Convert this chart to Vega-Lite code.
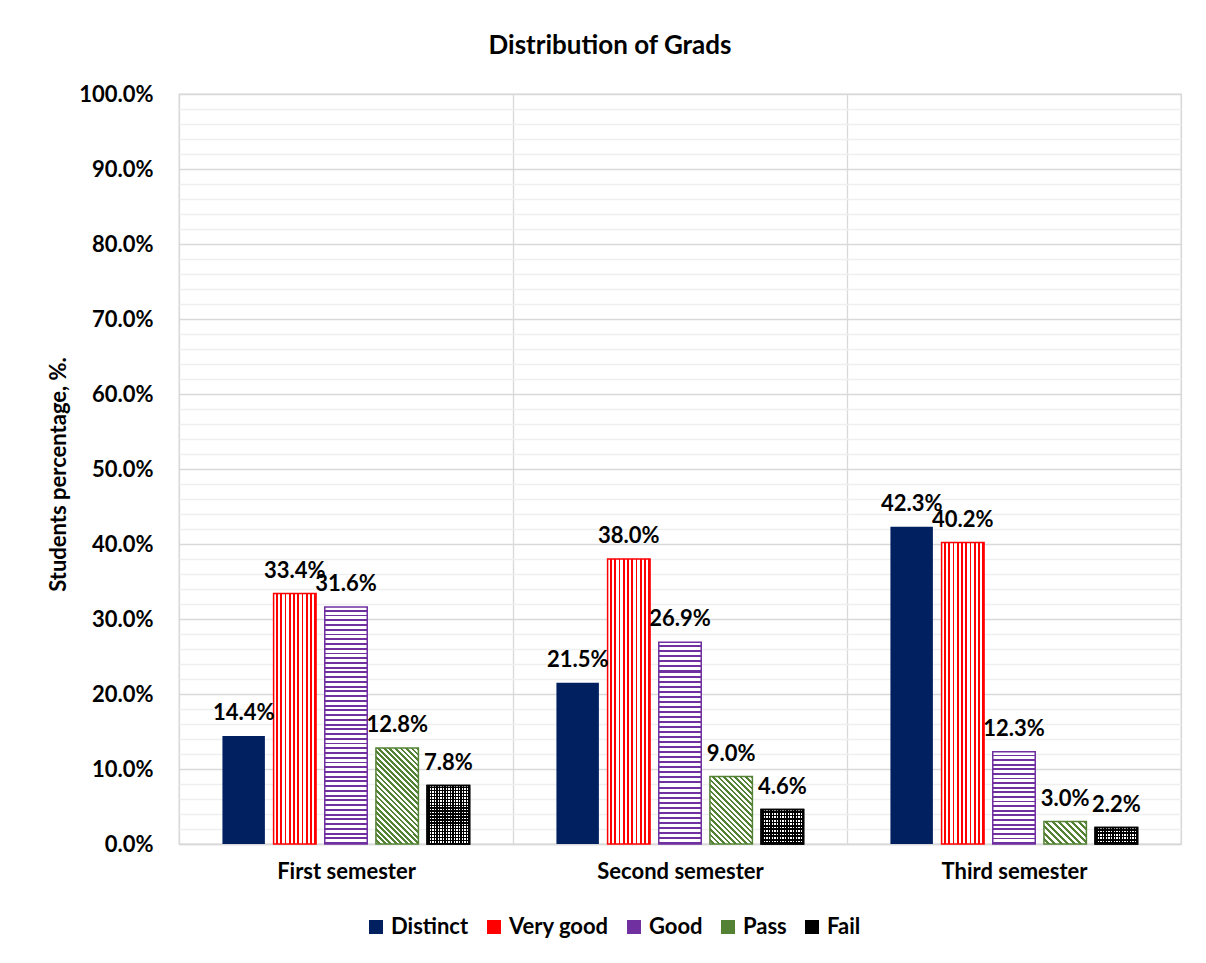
{
"$schema":"https://vega.github.io/schema/vega-lite/v6.json",
"width":1002,"height":750,
"autosize":{"type":"none"},
"padding":{"left":179,"top":94,"right":25,"bottom":119},
"background":"white",
"config":{"font":"Lato","view":{"stroke":"#d9d9d9","strokeWidth":1.3}},
"title":{"text":"Distribution of Grads","fontSize":26,"fontWeight":"bold","color":"#000","anchor":"middle","dx":-70,"offset":24},
"data":{"values":[
{"semester":"First semester","grade":"Distinct","value":0.144},
{"semester":"First semester","grade":"Very good","value":0.334},
{"semester":"First semester","grade":"Good","value":0.316},
{"semester":"First semester","grade":"Pass","value":0.128},
{"semester":"First semester","grade":"Fail","value":0.078},
{"semester":"Second semester","grade":"Distinct","value":0.215},
{"semester":"Second semester","grade":"Very good","value":0.380},
{"semester":"Second semester","grade":"Good","value":0.269},
{"semester":"Second semester","grade":"Pass","value":0.090},
{"semester":"Second semester","grade":"Fail","value":0.046},
{"semester":"Third semester","grade":"Distinct","value":0.423},
{"semester":"Third semester","grade":"Very good","value":0.402},
{"semester":"Third semester","grade":"Good","value":0.123},
{"semester":"Third semester","grade":"Pass","value":0.030},
{"semester":"Third semester","grade":"Fail","value":0.022}
]},
"encoding":{
"x":{"field":"semester","type":"nominal","scale":{"domain":["First semester","Second semester","Third semester"],"paddingInner":0,"paddingOuter":0},
 "axis":{"title":null,"labelAngle":0,"labelFontWeight":"bold","labelFontSize":22,"labelColor":"#000","labelPadding":17,"ticks":false,"tickSize":0,"tickBand":"extent","domainColor":"#d9d9d9","domainWidth":1.3,"grid":true,"gridColor":"#d9d9d9","gridWidth":1.3}},
"xOffset":{"field":"grade","type":"nominal","scale":{"domain":["Distinct","Very good","Good","Pass","Fail"],"paddingInner":0.17,"paddingOuter":0.8487}},
"y":{"field":"value","type":"quantitative","stack":null,"scale":{"domain":[0,1]},
 "axis":{"title":"Students percentage, %.","titleFontSize":22,"titleFontWeight":"bold","titleColor":"#000","titleX":-121,"titleY":380,"titleAlign":"center","titleBaseline":"middle","titleAngle":-90,
 "values":[0,0.02,0.04,0.06,0.08,0.1,0.12,0.14,0.16,0.18,0.2,0.22,0.24,0.26,0.28,0.3,0.32,0.34,0.36,0.38,0.4,0.42,0.44,0.46,0.48,0.5,0.52,0.54,0.56,0.58,0.6,0.62,0.64,0.66,0.68,0.7,0.72,0.74,0.76,0.78,0.8,0.82,0.84,0.86,0.88,0.9,0.92,0.94,0.96,0.98,1],
 "format":".1%","labelExpr":"round(datum.value*50) % 5 == 0 ? datum.label : ''","labelOverlap":false,"labelFontWeight":"bold","labelFontSize":22,"labelColor":"#000","labelPadding":26,"ticks":false,"tickSize":0,"domain":false,
 "gridColor":{"condition":{"test":"round(datum.value*50) % 5 == 0","value":"#d9d9d9"},"value":"#efefef"},"gridWidth":1.3}}
},
"layer":[
{"mark":{"type":"bar"},
 "encoding":{"color":{"field":"grade","type":"nominal","scale":{"domain":["Distinct","Very good","Good","Pass","Fail"],"range":["#002060","#ff0000","#7030a0","#548235","#000000"]},
 "legend":{"title":null,"orient":"none","legendX":186,"legendY":822,"direction":"horizontal","symbolType":"square","symbolSize":196,"symbolStrokeWidth":0,"symbolOpacity":1,"labelFontWeight":"bold","labelFontSize":22,"labelColor":"#000","labelOffset":4,"columnPadding":14}}}},
{"transform":[{"filter":"datum.grade == 'Very good'"}],
 "mark":{"type":"bar","stroke":"#ff0000","strokeWidth":1.5,"fill":{"gradient":"linear","x1":0,"y1":0,"x2":1,"y2":0,"stops":[
{"offset":0,"color":"#fff"},{"offset":0.06,"color":"#fff"},{"offset":0.06,"color":"#f00"},{"offset":0.1,"color":"#f00"},
{"offset":0.1,"color":"#fff"},{"offset":0.16,"color":"#fff"},{"offset":0.16,"color":"#f00"},{"offset":0.2,"color":"#f00"},
{"offset":0.2,"color":"#fff"},{"offset":0.26,"color":"#fff"},{"offset":0.26,"color":"#f00"},{"offset":0.3,"color":"#f00"},
{"offset":0.3,"color":"#fff"},{"offset":0.36,"color":"#fff"},{"offset":0.36,"color":"#f00"},{"offset":0.4,"color":"#f00"},
{"offset":0.4,"color":"#fff"},{"offset":0.46,"color":"#fff"},{"offset":0.46,"color":"#f00"},{"offset":0.5,"color":"#f00"},
{"offset":0.5,"color":"#fff"},{"offset":0.56,"color":"#fff"},{"offset":0.56,"color":"#f00"},{"offset":0.6,"color":"#f00"},
{"offset":0.6,"color":"#fff"},{"offset":0.66,"color":"#fff"},{"offset":0.66,"color":"#f00"},{"offset":0.7,"color":"#f00"},
{"offset":0.7,"color":"#fff"},{"offset":0.76,"color":"#fff"},{"offset":0.76,"color":"#f00"},{"offset":0.8,"color":"#f00"},
{"offset":0.8,"color":"#fff"},{"offset":0.86,"color":"#fff"},{"offset":0.86,"color":"#f00"},{"offset":0.9,"color":"#f00"},
{"offset":0.9,"color":"#fff"},{"offset":0.96,"color":"#fff"},{"offset":0.96,"color":"#f00"},{"offset":1,"color":"#f00"}]}}},
{"transform":[{"filter":"datum.grade == 'Good' && datum.semester == 'First semester'"}],
 "mark":{"type":"bar","stroke":"#7030a0","strokeWidth":1.5,"fill":{"gradient":"linear","x1":0,"y1":0,"x2":0,"y2":1,"stops":[
{"offset":0,"color":"#fff"},{"offset":0.012,"color":"#fff"},{"offset":0.012,"color":"#7030a0"},{"offset":0.02,"color":"#7030a0"},
{"offset":0.02,"color":"#fff"},{"offset":0.032,"color":"#fff"},{"offset":0.032,"color":"#7030a0"},{"offset":0.04,"color":"#7030a0"},
{"offset":0.04,"color":"#fff"},{"offset":0.052,"color":"#fff"},{"offset":0.052,"color":"#7030a0"},{"offset":0.06,"color":"#7030a0"},
{"offset":0.06,"color":"#fff"},{"offset":0.072,"color":"#fff"},{"offset":0.072,"color":"#7030a0"},{"offset":0.08,"color":"#7030a0"},
{"offset":0.08,"color":"#fff"},{"offset":0.092,"color":"#fff"},{"offset":0.092,"color":"#7030a0"},{"offset":0.1,"color":"#7030a0"},
{"offset":0.1,"color":"#fff"},{"offset":0.112,"color":"#fff"},{"offset":0.112,"color":"#7030a0"},{"offset":0.12,"color":"#7030a0"},
{"offset":0.12,"color":"#fff"},{"offset":0.132,"color":"#fff"},{"offset":0.132,"color":"#7030a0"},{"offset":0.14,"color":"#7030a0"},
{"offset":0.14,"color":"#fff"},{"offset":0.152,"color":"#fff"},{"offset":0.152,"color":"#7030a0"},{"offset":0.16,"color":"#7030a0"},
{"offset":0.16,"color":"#fff"},{"offset":0.172,"color":"#fff"},{"offset":0.172,"color":"#7030a0"},{"offset":0.18,"color":"#7030a0"},
{"offset":0.18,"color":"#fff"},{"offset":0.192,"color":"#fff"},{"offset":0.192,"color":"#7030a0"},{"offset":0.2,"color":"#7030a0"},
{"offset":0.2,"color":"#fff"},{"offset":0.212,"color":"#fff"},{"offset":0.212,"color":"#7030a0"},{"offset":0.22,"color":"#7030a0"},
{"offset":0.22,"color":"#fff"},{"offset":0.232,"color":"#fff"},{"offset":0.232,"color":"#7030a0"},{"offset":0.24,"color":"#7030a0"},
{"offset":0.24,"color":"#fff"},{"offset":0.252,"color":"#fff"},{"offset":0.252,"color":"#7030a0"},{"offset":0.26,"color":"#7030a0"},
{"offset":0.26,"color":"#fff"},{"offset":0.272,"color":"#fff"},{"offset":0.272,"color":"#7030a0"},{"offset":0.28,"color":"#7030a0"},
{"offset":0.28,"color":"#fff"},{"offset":0.292,"color":"#fff"},{"offset":0.292,"color":"#7030a0"},{"offset":0.3,"color":"#7030a0"},
{"offset":0.3,"color":"#fff"},{"offset":0.312,"color":"#fff"},{"offset":0.312,"color":"#7030a0"},{"offset":0.32,"color":"#7030a0"},
{"offset":0.32,"color":"#fff"},{"offset":0.332,"color":"#fff"},{"offset":0.332,"color":"#7030a0"},{"offset":0.34,"color":"#7030a0"},
{"offset":0.34,"color":"#fff"},{"offset":0.352,"color":"#fff"},{"offset":0.352,"color":"#7030a0"},{"offset":0.36,"color":"#7030a0"},
{"offset":0.36,"color":"#fff"},{"offset":0.372,"color":"#fff"},{"offset":0.372,"color":"#7030a0"},{"offset":0.38,"color":"#7030a0"},
{"offset":0.38,"color":"#fff"},{"offset":0.392,"color":"#fff"},{"offset":0.392,"color":"#7030a0"},{"offset":0.4,"color":"#7030a0"},
{"offset":0.4,"color":"#fff"},{"offset":0.412,"color":"#fff"},{"offset":0.412,"color":"#7030a0"},{"offset":0.42,"color":"#7030a0"},
{"offset":0.42,"color":"#fff"},{"offset":0.432,"color":"#fff"},{"offset":0.432,"color":"#7030a0"},{"offset":0.44,"color":"#7030a0"},
{"offset":0.44,"color":"#fff"},{"offset":0.452,"color":"#fff"},{"offset":0.452,"color":"#7030a0"},{"offset":0.46,"color":"#7030a0"},
{"offset":0.46,"color":"#fff"},{"offset":0.472,"color":"#fff"},{"offset":0.472,"color":"#7030a0"},{"offset":0.48,"color":"#7030a0"},
{"offset":0.48,"color":"#fff"},{"offset":0.492,"color":"#fff"},{"offset":0.492,"color":"#7030a0"},{"offset":0.5,"color":"#7030a0"},
{"offset":0.5,"color":"#fff"},{"offset":0.512,"color":"#fff"},{"offset":0.512,"color":"#7030a0"},{"offset":0.52,"color":"#7030a0"},
{"offset":0.52,"color":"#fff"},{"offset":0.532,"color":"#fff"},{"offset":0.532,"color":"#7030a0"},{"offset":0.54,"color":"#7030a0"},
{"offset":0.54,"color":"#fff"},{"offset":0.552,"color":"#fff"},{"offset":0.552,"color":"#7030a0"},{"offset":0.56,"color":"#7030a0"},
{"offset":0.56,"color":"#fff"},{"offset":0.572,"color":"#fff"},{"offset":0.572,"color":"#7030a0"},{"offset":0.58,"color":"#7030a0"},
{"offset":0.58,"color":"#fff"},{"offset":0.592,"color":"#fff"},{"offset":0.592,"color":"#7030a0"},{"offset":0.6,"color":"#7030a0"},
{"offset":0.6,"color":"#fff"},{"offset":0.612,"color":"#fff"},{"offset":0.612,"color":"#7030a0"},{"offset":0.62,"color":"#7030a0"},
{"offset":0.62,"color":"#fff"},{"offset":0.632,"color":"#fff"},{"offset":0.632,"color":"#7030a0"},{"offset":0.64,"color":"#7030a0"},
{"offset":0.64,"color":"#fff"},{"offset":0.652,"color":"#fff"},{"offset":0.652,"color":"#7030a0"},{"offset":0.66,"color":"#7030a0"},
{"offset":0.66,"color":"#fff"},{"offset":0.672,"color":"#fff"},{"offset":0.672,"color":"#7030a0"},{"offset":0.68,"color":"#7030a0"},
{"offset":0.68,"color":"#fff"},{"offset":0.692,"color":"#fff"},{"offset":0.692,"color":"#7030a0"},{"offset":0.7,"color":"#7030a0"},
{"offset":0.7,"color":"#fff"},{"offset":0.712,"color":"#fff"},{"offset":0.712,"color":"#7030a0"},{"offset":0.72,"color":"#7030a0"},
{"offset":0.72,"color":"#fff"},{"offset":0.732,"color":"#fff"},{"offset":0.732,"color":"#7030a0"},{"offset":0.74,"color":"#7030a0"},
{"offset":0.74,"color":"#fff"},{"offset":0.752,"color":"#fff"},{"offset":0.752,"color":"#7030a0"},{"offset":0.76,"color":"#7030a0"},
{"offset":0.76,"color":"#fff"},{"offset":0.772,"color":"#fff"},{"offset":0.772,"color":"#7030a0"},{"offset":0.78,"color":"#7030a0"},
{"offset":0.78,"color":"#fff"},{"offset":0.792,"color":"#fff"},{"offset":0.792,"color":"#7030a0"},{"offset":0.8,"color":"#7030a0"},
{"offset":0.8,"color":"#fff"},{"offset":0.812,"color":"#fff"},{"offset":0.812,"color":"#7030a0"},{"offset":0.82,"color":"#7030a0"},
{"offset":0.82,"color":"#fff"},{"offset":0.832,"color":"#fff"},{"offset":0.832,"color":"#7030a0"},{"offset":0.84,"color":"#7030a0"},
{"offset":0.84,"color":"#fff"},{"offset":0.852,"color":"#fff"},{"offset":0.852,"color":"#7030a0"},{"offset":0.86,"color":"#7030a0"},
{"offset":0.86,"color":"#fff"},{"offset":0.872,"color":"#fff"},{"offset":0.872,"color":"#7030a0"},{"offset":0.88,"color":"#7030a0"},
{"offset":0.88,"color":"#fff"},{"offset":0.892,"color":"#fff"},{"offset":0.892,"color":"#7030a0"},{"offset":0.9,"color":"#7030a0"},
{"offset":0.9,"color":"#fff"},{"offset":0.912,"color":"#fff"},{"offset":0.912,"color":"#7030a0"},{"offset":0.92,"color":"#7030a0"},
{"offset":0.92,"color":"#fff"},{"offset":0.932,"color":"#fff"},{"offset":0.932,"color":"#7030a0"},{"offset":0.94,"color":"#7030a0"},
{"offset":0.94,"color":"#fff"},{"offset":0.952,"color":"#fff"},{"offset":0.952,"color":"#7030a0"},{"offset":0.96,"color":"#7030a0"},
{"offset":0.96,"color":"#fff"},{"offset":0.972,"color":"#fff"},{"offset":0.972,"color":"#7030a0"},{"offset":0.98,"color":"#7030a0"},
{"offset":0.98,"color":"#fff"},{"offset":0.992,"color":"#fff"},{"offset":0.992,"color":"#7030a0"},{"offset":1,"color":"#7030a0"}]}}},
{"transform":[{"filter":"datum.grade == 'Good' && datum.semester == 'Second semester'"}],
 "mark":{"type":"bar","stroke":"#7030a0","strokeWidth":1.5,"fill":{"gradient":"linear","x1":0,"y1":0,"x2":0,"y2":1,"stops":[
{"offset":0,"color":"#fff"},{"offset":0.015,"color":"#fff"},{"offset":0.015,"color":"#7030a0"},{"offset":0.025,"color":"#7030a0"},
{"offset":0.025,"color":"#fff"},{"offset":0.04,"color":"#fff"},{"offset":0.04,"color":"#7030a0"},{"offset":0.05,"color":"#7030a0"},
{"offset":0.05,"color":"#fff"},{"offset":0.065,"color":"#fff"},{"offset":0.065,"color":"#7030a0"},{"offset":0.075,"color":"#7030a0"},
{"offset":0.075,"color":"#fff"},{"offset":0.09,"color":"#fff"},{"offset":0.09,"color":"#7030a0"},{"offset":0.1,"color":"#7030a0"},
{"offset":0.1,"color":"#fff"},{"offset":0.115,"color":"#fff"},{"offset":0.115,"color":"#7030a0"},{"offset":0.125,"color":"#7030a0"},
{"offset":0.125,"color":"#fff"},{"offset":0.14,"color":"#fff"},{"offset":0.14,"color":"#7030a0"},{"offset":0.15,"color":"#7030a0"},
{"offset":0.15,"color":"#fff"},{"offset":0.165,"color":"#fff"},{"offset":0.165,"color":"#7030a0"},{"offset":0.175,"color":"#7030a0"},
{"offset":0.175,"color":"#fff"},{"offset":0.19,"color":"#fff"},{"offset":0.19,"color":"#7030a0"},{"offset":0.2,"color":"#7030a0"},
{"offset":0.2,"color":"#fff"},{"offset":0.215,"color":"#fff"},{"offset":0.215,"color":"#7030a0"},{"offset":0.225,"color":"#7030a0"},
{"offset":0.225,"color":"#fff"},{"offset":0.24,"color":"#fff"},{"offset":0.24,"color":"#7030a0"},{"offset":0.25,"color":"#7030a0"},
{"offset":0.25,"color":"#fff"},{"offset":0.265,"color":"#fff"},{"offset":0.265,"color":"#7030a0"},{"offset":0.275,"color":"#7030a0"},
{"offset":0.275,"color":"#fff"},{"offset":0.29,"color":"#fff"},{"offset":0.29,"color":"#7030a0"},{"offset":0.3,"color":"#7030a0"},
{"offset":0.3,"color":"#fff"},{"offset":0.315,"color":"#fff"},{"offset":0.315,"color":"#7030a0"},{"offset":0.325,"color":"#7030a0"},
{"offset":0.325,"color":"#fff"},{"offset":0.34,"color":"#fff"},{"offset":0.34,"color":"#7030a0"},{"offset":0.35,"color":"#7030a0"},
{"offset":0.35,"color":"#fff"},{"offset":0.365,"color":"#fff"},{"offset":0.365,"color":"#7030a0"},{"offset":0.375,"color":"#7030a0"},
{"offset":0.375,"color":"#fff"},{"offset":0.39,"color":"#fff"},{"offset":0.39,"color":"#7030a0"},{"offset":0.4,"color":"#7030a0"},
{"offset":0.4,"color":"#fff"},{"offset":0.415,"color":"#fff"},{"offset":0.415,"color":"#7030a0"},{"offset":0.425,"color":"#7030a0"},
{"offset":0.425,"color":"#fff"},{"offset":0.44,"color":"#fff"},{"offset":0.44,"color":"#7030a0"},{"offset":0.45,"color":"#7030a0"},
{"offset":0.45,"color":"#fff"},{"offset":0.465,"color":"#fff"},{"offset":0.465,"color":"#7030a0"},{"offset":0.475,"color":"#7030a0"},
{"offset":0.475,"color":"#fff"},{"offset":0.49,"color":"#fff"},{"offset":0.49,"color":"#7030a0"},{"offset":0.5,"color":"#7030a0"},
{"offset":0.5,"color":"#fff"},{"offset":0.515,"color":"#fff"},{"offset":0.515,"color":"#7030a0"},{"offset":0.525,"color":"#7030a0"},
{"offset":0.525,"color":"#fff"},{"offset":0.54,"color":"#fff"},{"offset":0.54,"color":"#7030a0"},{"offset":0.55,"color":"#7030a0"},
{"offset":0.55,"color":"#fff"},{"offset":0.565,"color":"#fff"},{"offset":0.565,"color":"#7030a0"},{"offset":0.575,"color":"#7030a0"},
{"offset":0.575,"color":"#fff"},{"offset":0.59,"color":"#fff"},{"offset":0.59,"color":"#7030a0"},{"offset":0.6,"color":"#7030a0"},
{"offset":0.6,"color":"#fff"},{"offset":0.615,"color":"#fff"},{"offset":0.615,"color":"#7030a0"},{"offset":0.625,"color":"#7030a0"},
{"offset":0.625,"color":"#fff"},{"offset":0.64,"color":"#fff"},{"offset":0.64,"color":"#7030a0"},{"offset":0.65,"color":"#7030a0"},
{"offset":0.65,"color":"#fff"},{"offset":0.665,"color":"#fff"},{"offset":0.665,"color":"#7030a0"},{"offset":0.675,"color":"#7030a0"},
{"offset":0.675,"color":"#fff"},{"offset":0.69,"color":"#fff"},{"offset":0.69,"color":"#7030a0"},{"offset":0.7,"color":"#7030a0"},
{"offset":0.7,"color":"#fff"},{"offset":0.715,"color":"#fff"},{"offset":0.715,"color":"#7030a0"},{"offset":0.725,"color":"#7030a0"},
{"offset":0.725,"color":"#fff"},{"offset":0.74,"color":"#fff"},{"offset":0.74,"color":"#7030a0"},{"offset":0.75,"color":"#7030a0"},
{"offset":0.75,"color":"#fff"},{"offset":0.765,"color":"#fff"},{"offset":0.765,"color":"#7030a0"},{"offset":0.775,"color":"#7030a0"},
{"offset":0.775,"color":"#fff"},{"offset":0.79,"color":"#fff"},{"offset":0.79,"color":"#7030a0"},{"offset":0.8,"color":"#7030a0"},
{"offset":0.8,"color":"#fff"},{"offset":0.815,"color":"#fff"},{"offset":0.815,"color":"#7030a0"},{"offset":0.825,"color":"#7030a0"},
{"offset":0.825,"color":"#fff"},{"offset":0.84,"color":"#fff"},{"offset":0.84,"color":"#7030a0"},{"offset":0.85,"color":"#7030a0"},
{"offset":0.85,"color":"#fff"},{"offset":0.865,"color":"#fff"},{"offset":0.865,"color":"#7030a0"},{"offset":0.875,"color":"#7030a0"},
{"offset":0.875,"color":"#fff"},{"offset":0.89,"color":"#fff"},{"offset":0.89,"color":"#7030a0"},{"offset":0.9,"color":"#7030a0"},
{"offset":0.9,"color":"#fff"},{"offset":0.915,"color":"#fff"},{"offset":0.915,"color":"#7030a0"},{"offset":0.925,"color":"#7030a0"},
{"offset":0.925,"color":"#fff"},{"offset":0.94,"color":"#fff"},{"offset":0.94,"color":"#7030a0"},{"offset":0.95,"color":"#7030a0"},
{"offset":0.95,"color":"#fff"},{"offset":0.965,"color":"#fff"},{"offset":0.965,"color":"#7030a0"},{"offset":0.975,"color":"#7030a0"},
{"offset":0.975,"color":"#fff"},{"offset":0.99,"color":"#fff"},{"offset":0.99,"color":"#7030a0"},{"offset":1,"color":"#7030a0"}]}}},
{"transform":[{"filter":"datum.grade == 'Good' && datum.semester == 'Third semester'"}],
 "mark":{"type":"bar","stroke":"#7030a0","strokeWidth":1.5,"fill":{"gradient":"linear","x1":0,"y1":0,"x2":0,"y2":1,"stops":[
{"offset":0,"color":"#fff"},{"offset":0.03,"color":"#fff"},{"offset":0.03,"color":"#7030a0"},{"offset":0.05,"color":"#7030a0"},
{"offset":0.05,"color":"#fff"},{"offset":0.08,"color":"#fff"},{"offset":0.08,"color":"#7030a0"},{"offset":0.1,"color":"#7030a0"},
{"offset":0.1,"color":"#fff"},{"offset":0.13,"color":"#fff"},{"offset":0.13,"color":"#7030a0"},{"offset":0.15,"color":"#7030a0"},
{"offset":0.15,"color":"#fff"},{"offset":0.18,"color":"#fff"},{"offset":0.18,"color":"#7030a0"},{"offset":0.2,"color":"#7030a0"},
{"offset":0.2,"color":"#fff"},{"offset":0.23,"color":"#fff"},{"offset":0.23,"color":"#7030a0"},{"offset":0.25,"color":"#7030a0"},
{"offset":0.25,"color":"#fff"},{"offset":0.28,"color":"#fff"},{"offset":0.28,"color":"#7030a0"},{"offset":0.3,"color":"#7030a0"},
{"offset":0.3,"color":"#fff"},{"offset":0.33,"color":"#fff"},{"offset":0.33,"color":"#7030a0"},{"offset":0.35,"color":"#7030a0"},
{"offset":0.35,"color":"#fff"},{"offset":0.38,"color":"#fff"},{"offset":0.38,"color":"#7030a0"},{"offset":0.4,"color":"#7030a0"},
{"offset":0.4,"color":"#fff"},{"offset":0.43,"color":"#fff"},{"offset":0.43,"color":"#7030a0"},{"offset":0.45,"color":"#7030a0"},
{"offset":0.45,"color":"#fff"},{"offset":0.48,"color":"#fff"},{"offset":0.48,"color":"#7030a0"},{"offset":0.5,"color":"#7030a0"},
{"offset":0.5,"color":"#fff"},{"offset":0.53,"color":"#fff"},{"offset":0.53,"color":"#7030a0"},{"offset":0.55,"color":"#7030a0"},
{"offset":0.55,"color":"#fff"},{"offset":0.58,"color":"#fff"},{"offset":0.58,"color":"#7030a0"},{"offset":0.6,"color":"#7030a0"},
{"offset":0.6,"color":"#fff"},{"offset":0.63,"color":"#fff"},{"offset":0.63,"color":"#7030a0"},{"offset":0.65,"color":"#7030a0"},
{"offset":0.65,"color":"#fff"},{"offset":0.68,"color":"#fff"},{"offset":0.68,"color":"#7030a0"},{"offset":0.7,"color":"#7030a0"},
{"offset":0.7,"color":"#fff"},{"offset":0.73,"color":"#fff"},{"offset":0.73,"color":"#7030a0"},{"offset":0.75,"color":"#7030a0"},
{"offset":0.75,"color":"#fff"},{"offset":0.78,"color":"#fff"},{"offset":0.78,"color":"#7030a0"},{"offset":0.8,"color":"#7030a0"},
{"offset":0.8,"color":"#fff"},{"offset":0.83,"color":"#fff"},{"offset":0.83,"color":"#7030a0"},{"offset":0.85,"color":"#7030a0"},
{"offset":0.85,"color":"#fff"},{"offset":0.88,"color":"#fff"},{"offset":0.88,"color":"#7030a0"},{"offset":0.9,"color":"#7030a0"},
{"offset":0.9,"color":"#fff"},{"offset":0.93,"color":"#fff"},{"offset":0.93,"color":"#7030a0"},{"offset":0.95,"color":"#7030a0"},
{"offset":0.95,"color":"#fff"},{"offset":0.98,"color":"#fff"},{"offset":0.98,"color":"#7030a0"},{"offset":1,"color":"#7030a0"}]}}},
{"transform":[{"filter":"datum.grade == 'Pass' && datum.semester == 'First semester'"}],
 "mark":{"type":"bar","stroke":"#548235","strokeWidth":1.5,"fill":{"gradient":"linear","x1":0,"y1":1,"x2":0.534,"y2":-0.2063,"stops":[
{"offset":0,"color":"#fff"},{"offset":0.02,"color":"#fff"},{"offset":0.02,"color":"#548235"},{"offset":0.04,"color":"#548235"},
{"offset":0.04,"color":"#fff"},{"offset":0.06,"color":"#fff"},{"offset":0.06,"color":"#548235"},{"offset":0.08,"color":"#548235"},
{"offset":0.08,"color":"#fff"},{"offset":0.1,"color":"#fff"},{"offset":0.1,"color":"#548235"},{"offset":0.12,"color":"#548235"},
{"offset":0.12,"color":"#fff"},{"offset":0.14,"color":"#fff"},{"offset":0.14,"color":"#548235"},{"offset":0.16,"color":"#548235"},
{"offset":0.16,"color":"#fff"},{"offset":0.18,"color":"#fff"},{"offset":0.18,"color":"#548235"},{"offset":0.2,"color":"#548235"},
{"offset":0.2,"color":"#fff"},{"offset":0.22,"color":"#fff"},{"offset":0.22,"color":"#548235"},{"offset":0.24,"color":"#548235"},
{"offset":0.24,"color":"#fff"},{"offset":0.26,"color":"#fff"},{"offset":0.26,"color":"#548235"},{"offset":0.28,"color":"#548235"},
{"offset":0.28,"color":"#fff"},{"offset":0.3,"color":"#fff"},{"offset":0.3,"color":"#548235"},{"offset":0.32,"color":"#548235"},
{"offset":0.32,"color":"#fff"},{"offset":0.34,"color":"#fff"},{"offset":0.34,"color":"#548235"},{"offset":0.36,"color":"#548235"},
{"offset":0.36,"color":"#fff"},{"offset":0.38,"color":"#fff"},{"offset":0.38,"color":"#548235"},{"offset":0.4,"color":"#548235"},
{"offset":0.4,"color":"#fff"},{"offset":0.42,"color":"#fff"},{"offset":0.42,"color":"#548235"},{"offset":0.44,"color":"#548235"},
{"offset":0.44,"color":"#fff"},{"offset":0.46,"color":"#fff"},{"offset":0.46,"color":"#548235"},{"offset":0.48,"color":"#548235"},
{"offset":0.48,"color":"#fff"},{"offset":0.5,"color":"#fff"},{"offset":0.5,"color":"#548235"},{"offset":0.52,"color":"#548235"},
{"offset":0.52,"color":"#fff"},{"offset":0.54,"color":"#fff"},{"offset":0.54,"color":"#548235"},{"offset":0.56,"color":"#548235"},
{"offset":0.56,"color":"#fff"},{"offset":0.58,"color":"#fff"},{"offset":0.58,"color":"#548235"},{"offset":0.6,"color":"#548235"},
{"offset":0.6,"color":"#fff"},{"offset":0.62,"color":"#fff"},{"offset":0.62,"color":"#548235"},{"offset":0.64,"color":"#548235"},
{"offset":0.64,"color":"#fff"},{"offset":0.66,"color":"#fff"},{"offset":0.66,"color":"#548235"},{"offset":0.68,"color":"#548235"},
{"offset":0.68,"color":"#fff"},{"offset":0.7,"color":"#fff"},{"offset":0.7,"color":"#548235"},{"offset":0.72,"color":"#548235"},
{"offset":0.72,"color":"#fff"},{"offset":0.74,"color":"#fff"},{"offset":0.74,"color":"#548235"},{"offset":0.76,"color":"#548235"},
{"offset":0.76,"color":"#fff"},{"offset":0.78,"color":"#fff"},{"offset":0.78,"color":"#548235"},{"offset":0.8,"color":"#548235"},
{"offset":0.8,"color":"#fff"},{"offset":0.82,"color":"#fff"},{"offset":0.82,"color":"#548235"},{"offset":0.84,"color":"#548235"},
{"offset":0.84,"color":"#fff"},{"offset":0.86,"color":"#fff"},{"offset":0.86,"color":"#548235"},{"offset":0.88,"color":"#548235"},
{"offset":0.88,"color":"#fff"},{"offset":0.9,"color":"#fff"},{"offset":0.9,"color":"#548235"},{"offset":0.92,"color":"#548235"},
{"offset":0.92,"color":"#fff"},{"offset":0.94,"color":"#fff"},{"offset":0.94,"color":"#548235"},{"offset":0.96,"color":"#548235"},
{"offset":0.96,"color":"#fff"},{"offset":0.98,"color":"#fff"},{"offset":0.98,"color":"#548235"},{"offset":1,"color":"#548235"}]}}},
{"transform":[{"filter":"datum.grade == 'Pass' && datum.semester == 'Second semester'"}],
 "mark":{"type":"bar","stroke":"#548235","strokeWidth":1.5,"fill":{"gradient":"linear","x1":0,"y1":1,"x2":0.7348,"y2":-0.167,"stops":[
{"offset":0,"color":"#fff"},{"offset":0.025,"color":"#fff"},{"offset":0.025,"color":"#548235"},{"offset":0.05,"color":"#548235"},
{"offset":0.05,"color":"#fff"},{"offset":0.075,"color":"#fff"},{"offset":0.075,"color":"#548235"},{"offset":0.1,"color":"#548235"},
{"offset":0.1,"color":"#fff"},{"offset":0.125,"color":"#fff"},{"offset":0.125,"color":"#548235"},{"offset":0.15,"color":"#548235"},
{"offset":0.15,"color":"#fff"},{"offset":0.175,"color":"#fff"},{"offset":0.175,"color":"#548235"},{"offset":0.2,"color":"#548235"},
{"offset":0.2,"color":"#fff"},{"offset":0.225,"color":"#fff"},{"offset":0.225,"color":"#548235"},{"offset":0.25,"color":"#548235"},
{"offset":0.25,"color":"#fff"},{"offset":0.275,"color":"#fff"},{"offset":0.275,"color":"#548235"},{"offset":0.3,"color":"#548235"},
{"offset":0.3,"color":"#fff"},{"offset":0.325,"color":"#fff"},{"offset":0.325,"color":"#548235"},{"offset":0.35,"color":"#548235"},
{"offset":0.35,"color":"#fff"},{"offset":0.375,"color":"#fff"},{"offset":0.375,"color":"#548235"},{"offset":0.4,"color":"#548235"},
{"offset":0.4,"color":"#fff"},{"offset":0.425,"color":"#fff"},{"offset":0.425,"color":"#548235"},{"offset":0.45,"color":"#548235"},
{"offset":0.45,"color":"#fff"},{"offset":0.475,"color":"#fff"},{"offset":0.475,"color":"#548235"},{"offset":0.5,"color":"#548235"},
{"offset":0.5,"color":"#fff"},{"offset":0.525,"color":"#fff"},{"offset":0.525,"color":"#548235"},{"offset":0.55,"color":"#548235"},
{"offset":0.55,"color":"#fff"},{"offset":0.575,"color":"#fff"},{"offset":0.575,"color":"#548235"},{"offset":0.6,"color":"#548235"},
{"offset":0.6,"color":"#fff"},{"offset":0.625,"color":"#fff"},{"offset":0.625,"color":"#548235"},{"offset":0.65,"color":"#548235"},
{"offset":0.65,"color":"#fff"},{"offset":0.675,"color":"#fff"},{"offset":0.675,"color":"#548235"},{"offset":0.7,"color":"#548235"},
{"offset":0.7,"color":"#fff"},{"offset":0.725,"color":"#fff"},{"offset":0.725,"color":"#548235"},{"offset":0.75,"color":"#548235"},
{"offset":0.75,"color":"#fff"},{"offset":0.775,"color":"#fff"},{"offset":0.775,"color":"#548235"},{"offset":0.8,"color":"#548235"},
{"offset":0.8,"color":"#fff"},{"offset":0.825,"color":"#fff"},{"offset":0.825,"color":"#548235"},{"offset":0.85,"color":"#548235"},
{"offset":0.85,"color":"#fff"},{"offset":0.875,"color":"#fff"},{"offset":0.875,"color":"#548235"},{"offset":0.9,"color":"#548235"},
{"offset":0.9,"color":"#fff"},{"offset":0.925,"color":"#fff"},{"offset":0.925,"color":"#548235"},{"offset":0.95,"color":"#548235"},
{"offset":0.95,"color":"#fff"},{"offset":0.975,"color":"#fff"},{"offset":0.975,"color":"#548235"},{"offset":1,"color":"#548235"}]}}},
{"transform":[{"filter":"datum.grade == 'Pass' && datum.semester == 'Third semester'"}],
 "mark":{"type":"bar","stroke":"#548235","strokeWidth":1.5,"fill":{"gradient":"linear","x1":0,"y1":1,"x2":1.1946,"y2":0.3676,"stops":[
{"offset":0,"color":"#fff"},{"offset":0.05,"color":"#fff"},{"offset":0.05,"color":"#548235"},{"offset":0.1,"color":"#548235"},
{"offset":0.1,"color":"#fff"},{"offset":0.15,"color":"#fff"},{"offset":0.15,"color":"#548235"},{"offset":0.2,"color":"#548235"},
{"offset":0.2,"color":"#fff"},{"offset":0.25,"color":"#fff"},{"offset":0.25,"color":"#548235"},{"offset":0.3,"color":"#548235"},
{"offset":0.3,"color":"#fff"},{"offset":0.35,"color":"#fff"},{"offset":0.35,"color":"#548235"},{"offset":0.4,"color":"#548235"},
{"offset":0.4,"color":"#fff"},{"offset":0.45,"color":"#fff"},{"offset":0.45,"color":"#548235"},{"offset":0.5,"color":"#548235"},
{"offset":0.5,"color":"#fff"},{"offset":0.55,"color":"#fff"},{"offset":0.55,"color":"#548235"},{"offset":0.6,"color":"#548235"},
{"offset":0.6,"color":"#fff"},{"offset":0.65,"color":"#fff"},{"offset":0.65,"color":"#548235"},{"offset":0.7,"color":"#548235"},
{"offset":0.7,"color":"#fff"},{"offset":0.75,"color":"#fff"},{"offset":0.75,"color":"#548235"},{"offset":0.8,"color":"#548235"},
{"offset":0.8,"color":"#fff"},{"offset":0.85,"color":"#fff"},{"offset":0.85,"color":"#548235"},{"offset":0.9,"color":"#548235"},
{"offset":0.9,"color":"#fff"},{"offset":0.95,"color":"#fff"},{"offset":0.95,"color":"#548235"},{"offset":1,"color":"#548235"}]}}},
{"transform":[{"filter":"datum.grade == 'Fail'"}],
 "mark":{"type":"bar","stroke":"#000","strokeWidth":1.5,"fill":{"gradient":"linear","x1":0,"y1":0,"x2":1,"y2":0,"stops":[
{"offset":0,"color":"#fff"},{"offset":0.03125,"color":"#fff"},{"offset":0.03125,"color":"#000"},{"offset":0.0625,"color":"#000"},
{"offset":0.0625,"color":"#fff"},{"offset":0.09375,"color":"#fff"},{"offset":0.09375,"color":"#000"},{"offset":0.125,"color":"#000"},
{"offset":0.125,"color":"#fff"},{"offset":0.15625,"color":"#fff"},{"offset":0.15625,"color":"#000"},{"offset":0.1875,"color":"#000"},
{"offset":0.1875,"color":"#fff"},{"offset":0.21875,"color":"#fff"},{"offset":0.21875,"color":"#000"},{"offset":0.25,"color":"#000"},
{"offset":0.25,"color":"#fff"},{"offset":0.28125,"color":"#fff"},{"offset":0.28125,"color":"#000"},{"offset":0.3125,"color":"#000"},
{"offset":0.3125,"color":"#fff"},{"offset":0.34375,"color":"#fff"},{"offset":0.34375,"color":"#000"},{"offset":0.375,"color":"#000"},
{"offset":0.375,"color":"#fff"},{"offset":0.40625,"color":"#fff"},{"offset":0.40625,"color":"#000"},{"offset":0.4375,"color":"#000"},
{"offset":0.4375,"color":"#fff"},{"offset":0.46875,"color":"#fff"},{"offset":0.46875,"color":"#000"},{"offset":0.5,"color":"#000"},
{"offset":0.5,"color":"#fff"},{"offset":0.53125,"color":"#fff"},{"offset":0.53125,"color":"#000"},{"offset":0.5625,"color":"#000"},
{"offset":0.5625,"color":"#fff"},{"offset":0.59375,"color":"#fff"},{"offset":0.59375,"color":"#000"},{"offset":0.625,"color":"#000"},
{"offset":0.625,"color":"#fff"},{"offset":0.65625,"color":"#fff"},{"offset":0.65625,"color":"#000"},{"offset":0.6875,"color":"#000"},
{"offset":0.6875,"color":"#fff"},{"offset":0.71875,"color":"#fff"},{"offset":0.71875,"color":"#000"},{"offset":0.75,"color":"#000"},
{"offset":0.75,"color":"#fff"},{"offset":0.78125,"color":"#fff"},{"offset":0.78125,"color":"#000"},{"offset":0.8125,"color":"#000"},
{"offset":0.8125,"color":"#fff"},{"offset":0.84375,"color":"#fff"},{"offset":0.84375,"color":"#000"},{"offset":0.875,"color":"#000"},
{"offset":0.875,"color":"#fff"},{"offset":0.90625,"color":"#fff"},{"offset":0.90625,"color":"#000"},{"offset":0.9375,"color":"#000"},
{"offset":0.9375,"color":"#fff"},{"offset":0.96875,"color":"#fff"},{"offset":0.96875,"color":"#000"},{"offset":1,"color":"#000"}]}}},
{"transform":[{"filter":"datum.grade == 'Fail' && datum.semester == 'First semester'"}],
 "mark":{"type":"bar","stroke":"#000","strokeWidth":1.5,"fill":{"gradient":"linear","x1":0,"y1":0,"x2":0,"y2":1,"stops":[
{"offset":0,"color":"rgba(0,0,0,0)"},{"offset":0.025,"color":"rgba(0,0,0,0)"},{"offset":0.025,"color":"#000"},{"offset":0.05,"color":"#000"},
{"offset":0.05,"color":"rgba(0,0,0,0)"},{"offset":0.075,"color":"rgba(0,0,0,0)"},{"offset":0.075,"color":"#000"},{"offset":0.1,"color":"#000"},
{"offset":0.1,"color":"rgba(0,0,0,0)"},{"offset":0.125,"color":"rgba(0,0,0,0)"},{"offset":0.125,"color":"#000"},{"offset":0.15,"color":"#000"},
{"offset":0.15,"color":"rgba(0,0,0,0)"},{"offset":0.175,"color":"rgba(0,0,0,0)"},{"offset":0.175,"color":"#000"},{"offset":0.2,"color":"#000"},
{"offset":0.2,"color":"rgba(0,0,0,0)"},{"offset":0.225,"color":"rgba(0,0,0,0)"},{"offset":0.225,"color":"#000"},{"offset":0.25,"color":"#000"},
{"offset":0.25,"color":"rgba(0,0,0,0)"},{"offset":0.275,"color":"rgba(0,0,0,0)"},{"offset":0.275,"color":"#000"},{"offset":0.3,"color":"#000"},
{"offset":0.3,"color":"rgba(0,0,0,0)"},{"offset":0.325,"color":"rgba(0,0,0,0)"},{"offset":0.325,"color":"#000"},{"offset":0.35,"color":"#000"},
{"offset":0.35,"color":"rgba(0,0,0,0)"},{"offset":0.375,"color":"rgba(0,0,0,0)"},{"offset":0.375,"color":"#000"},{"offset":0.4,"color":"#000"},
{"offset":0.4,"color":"rgba(0,0,0,0)"},{"offset":0.425,"color":"rgba(0,0,0,0)"},{"offset":0.425,"color":"#000"},{"offset":0.45,"color":"#000"},
{"offset":0.45,"color":"rgba(0,0,0,0)"},{"offset":0.475,"color":"rgba(0,0,0,0)"},{"offset":0.475,"color":"#000"},{"offset":0.5,"color":"#000"},
{"offset":0.5,"color":"rgba(0,0,0,0)"},{"offset":0.525,"color":"rgba(0,0,0,0)"},{"offset":0.525,"color":"#000"},{"offset":0.55,"color":"#000"},
{"offset":0.55,"color":"rgba(0,0,0,0)"},{"offset":0.575,"color":"rgba(0,0,0,0)"},{"offset":0.575,"color":"#000"},{"offset":0.6,"color":"#000"},
{"offset":0.6,"color":"rgba(0,0,0,0)"},{"offset":0.625,"color":"rgba(0,0,0,0)"},{"offset":0.625,"color":"#000"},{"offset":0.65,"color":"#000"},
{"offset":0.65,"color":"rgba(0,0,0,0)"},{"offset":0.675,"color":"rgba(0,0,0,0)"},{"offset":0.675,"color":"#000"},{"offset":0.7,"color":"#000"},
{"offset":0.7,"color":"rgba(0,0,0,0)"},{"offset":0.725,"color":"rgba(0,0,0,0)"},{"offset":0.725,"color":"#000"},{"offset":0.75,"color":"#000"},
{"offset":0.75,"color":"rgba(0,0,0,0)"},{"offset":0.775,"color":"rgba(0,0,0,0)"},{"offset":0.775,"color":"#000"},{"offset":0.8,"color":"#000"},
{"offset":0.8,"color":"rgba(0,0,0,0)"},{"offset":0.825,"color":"rgba(0,0,0,0)"},{"offset":0.825,"color":"#000"},{"offset":0.85,"color":"#000"},
{"offset":0.85,"color":"rgba(0,0,0,0)"},{"offset":0.875,"color":"rgba(0,0,0,0)"},{"offset":0.875,"color":"#000"},{"offset":0.9,"color":"#000"},
{"offset":0.9,"color":"rgba(0,0,0,0)"},{"offset":0.925,"color":"rgba(0,0,0,0)"},{"offset":0.925,"color":"#000"},{"offset":0.95,"color":"#000"},
{"offset":0.95,"color":"rgba(0,0,0,0)"},{"offset":0.975,"color":"rgba(0,0,0,0)"},{"offset":0.975,"color":"#000"},{"offset":1,"color":"#000"}]}}},
{"transform":[{"filter":"datum.grade == 'Fail' && datum.semester == 'Second semester'"}],
 "mark":{"type":"bar","stroke":"#000","strokeWidth":1.5,"fill":{"gradient":"linear","x1":0,"y1":0,"x2":0,"y2":1,"stops":[
{"offset":0,"color":"rgba(0,0,0,0)"},{"offset":0.05,"color":"rgba(0,0,0,0)"},{"offset":0.05,"color":"#000"},{"offset":0.1,"color":"#000"},
{"offset":0.1,"color":"rgba(0,0,0,0)"},{"offset":0.15,"color":"rgba(0,0,0,0)"},{"offset":0.15,"color":"#000"},{"offset":0.2,"color":"#000"},
{"offset":0.2,"color":"rgba(0,0,0,0)"},{"offset":0.25,"color":"rgba(0,0,0,0)"},{"offset":0.25,"color":"#000"},{"offset":0.3,"color":"#000"},
{"offset":0.3,"color":"rgba(0,0,0,0)"},{"offset":0.35,"color":"rgba(0,0,0,0)"},{"offset":0.35,"color":"#000"},{"offset":0.4,"color":"#000"},
{"offset":0.4,"color":"rgba(0,0,0,0)"},{"offset":0.45,"color":"rgba(0,0,0,0)"},{"offset":0.45,"color":"#000"},{"offset":0.5,"color":"#000"},
{"offset":0.5,"color":"rgba(0,0,0,0)"},{"offset":0.55,"color":"rgba(0,0,0,0)"},{"offset":0.55,"color":"#000"},{"offset":0.6,"color":"#000"},
{"offset":0.6,"color":"rgba(0,0,0,0)"},{"offset":0.65,"color":"rgba(0,0,0,0)"},{"offset":0.65,"color":"#000"},{"offset":0.7,"color":"#000"},
{"offset":0.7,"color":"rgba(0,0,0,0)"},{"offset":0.75,"color":"rgba(0,0,0,0)"},{"offset":0.75,"color":"#000"},{"offset":0.8,"color":"#000"},
{"offset":0.8,"color":"rgba(0,0,0,0)"},{"offset":0.85,"color":"rgba(0,0,0,0)"},{"offset":0.85,"color":"#000"},{"offset":0.9,"color":"#000"},
{"offset":0.9,"color":"rgba(0,0,0,0)"},{"offset":0.95,"color":"rgba(0,0,0,0)"},{"offset":0.95,"color":"#000"},{"offset":1,"color":"#000"}]}}},
{"transform":[{"filter":"datum.grade == 'Fail' && datum.semester == 'Third semester'"}],
 "mark":{"type":"bar","stroke":"#000","strokeWidth":1.5,"fill":{"gradient":"linear","x1":0,"y1":0,"x2":0,"y2":1,"stops":[
{"offset":0,"color":"rgba(0,0,0,0)"},{"offset":0.1,"color":"rgba(0,0,0,0)"},{"offset":0.1,"color":"#000"},{"offset":0.2,"color":"#000"},
{"offset":0.2,"color":"rgba(0,0,0,0)"},{"offset":0.3,"color":"rgba(0,0,0,0)"},{"offset":0.3,"color":"#000"},{"offset":0.4,"color":"#000"},
{"offset":0.4,"color":"rgba(0,0,0,0)"},{"offset":0.5,"color":"rgba(0,0,0,0)"},{"offset":0.5,"color":"#000"},{"offset":0.6,"color":"#000"},
{"offset":0.6,"color":"rgba(0,0,0,0)"},{"offset":0.7,"color":"rgba(0,0,0,0)"},{"offset":0.7,"color":"#000"},{"offset":0.8,"color":"#000"},
{"offset":0.8,"color":"rgba(0,0,0,0)"},{"offset":0.9,"color":"rgba(0,0,0,0)"},{"offset":0.9,"color":"#000"},{"offset":1,"color":"#000"}]}}},
{"mark":{"type":"text","fontSize":22,"fontWeight":"bold","color":"#000","align":"center","baseline":"alphabetic","dy":-16},
 "encoding":{"text":{"field":"value","type":"quantitative","format":".1%"}}}
]
}
